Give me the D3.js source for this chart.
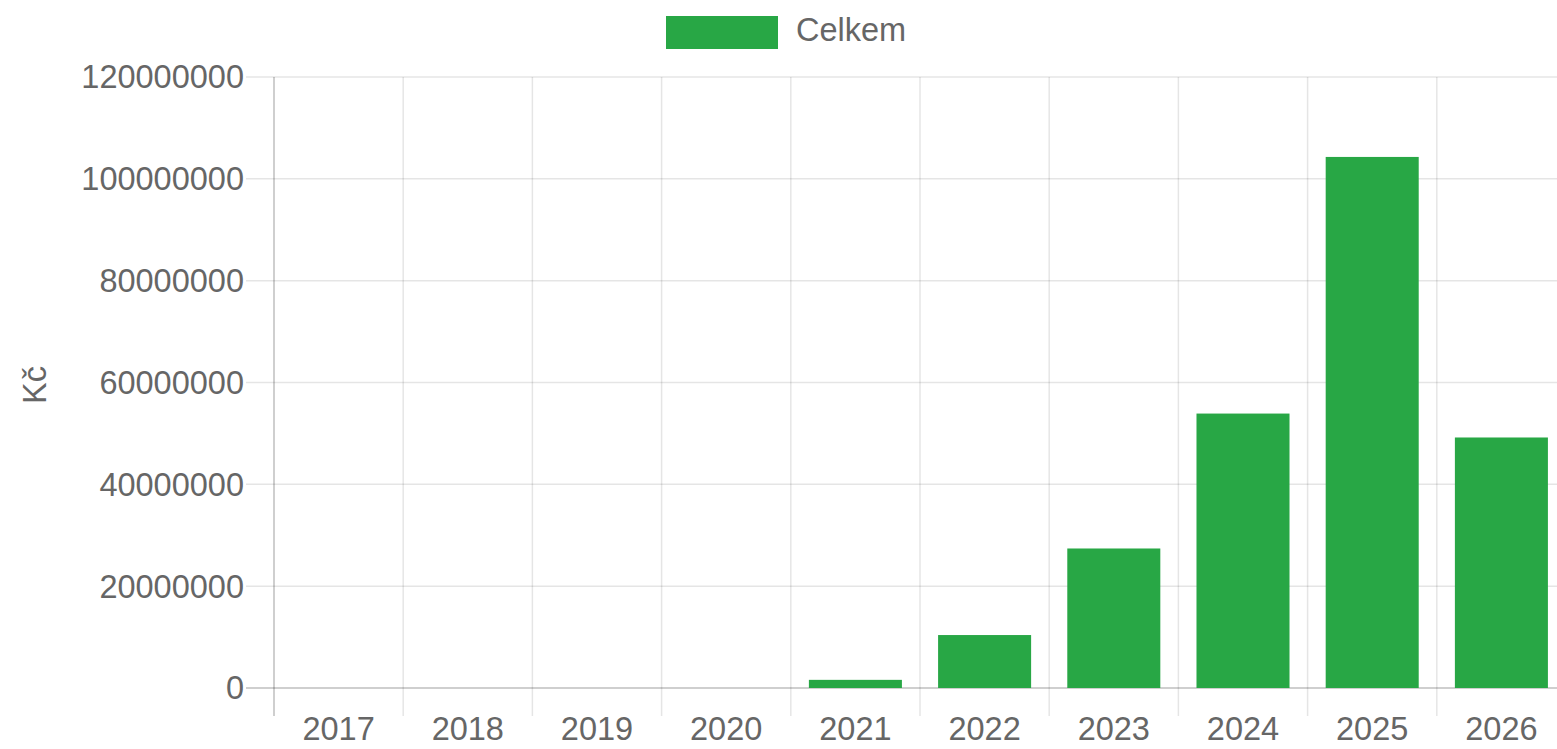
<!DOCTYPE html>
<html>
<head>
<meta charset="utf-8">
<script src="https://cdn.jsdelivr.net/npm/d3@7"></script>
<style>
  body { margin: 0; background: #fff; overflow: hidden; }
  text { font-family: "Liberation Sans", Arial, sans-serif; fill: #666; }
</style>
</head>
<body>
<svg id="chart" width="1557" height="749"></svg>
<script>
// data
const years = ["2017", "2018", "2019", "2020", "2021", "2022", "2023", "2024", "2025", "2026"];
const celkem = [0, 0, 0, 0, 1600000, 10400000, 27400000, 53900000, 104300000, 49200000];
const yTicks = [0, 20000000, 40000000, 60000000, 80000000, 100000000, 120000000];
const seriesName = "Celkem";
const yTitle = "Kč";

// plot runs a bit past the right edge of the picture, like the original crop
const plotL = 274, plotR = 1566, plotT = 77, plotB = 688;
const green = "#28a745";

const svg = d3.select("#chart");

const x = d3.scaleBand().domain(years).range([plotL, plotR]).padding(0);
const y = d3.scaleLinear().domain([0, 120000000]).range([plotB, plotT]);

// horizontal grid + y ticks
svg.append("g").selectAll("line").data(yTicks).enter().append("line")
  .attr("x1", plotL - 28).attr("x2", plotR)
  .attr("y1", d => y(d)).attr("y2", d => y(d))
  .attr("stroke", d => d === 0 ? "rgba(0,0,0,0.25)" : "rgba(0,0,0,0.1)")
  .attr("stroke-width", 1.5);

// vertical grid at category edges
const edges = years.map(d => x(d)).concat([plotR]);
svg.append("g").selectAll("line").data(edges).enter().append("line")
  .attr("x1", d => d).attr("x2", d => d)
  .attr("y1", plotT).attr("y2", plotB + 28)
  .attr("stroke", (d, i) => i === 0 ? "rgba(0,0,0,0.25)" : "rgba(0,0,0,0.1)")
  .attr("stroke-width", 1.5);

// bars
const bw = x.bandwidth() * 0.72;
svg.append("g").selectAll("rect").data(years).enter().append("rect")
  .attr("x", d => x(d) + (x.bandwidth() - bw) / 2)
  .attr("width", bw)
  .attr("y", (d, i) => y(celkem[i]))
  .attr("height", (d, i) => plotB - y(celkem[i]))
  .attr("fill", green);

// y tick labels
svg.append("g").selectAll("text").data(yTicks).enter().append("text")
  .attr("x", plotL - 30).attr("y", d => y(d))
  .attr("dy", "0.35em")
  .attr("text-anchor", "end")
  .style("font-size", "32.5px")
  .text(d => d3.format("d")(d));

// x tick labels
svg.append("g").selectAll("text").data(years).enter().append("text")
  .attr("x", d => x(d) + x.bandwidth() / 2).attr("y", 729)
  .attr("dy", "0.35em")
  .attr("text-anchor", "middle")
  .style("font-size", "32.5px")
  .text(d => d);

// y title
svg.append("text")
  .attr("transform", "translate(35,385) rotate(-90)")
  .attr("text-anchor", "middle")
  .attr("dy", "0.35em")
  .style("font-size", "32.5px")
  .text(yTitle);

// legend
svg.append("rect").attr("x", 666).attr("y", 16).attr("width", 112).attr("height", 33)
  .attr("fill", green);
svg.append("text").attr("x", 796).attr("y", 30).attr("dy", "0.35em")
  .style("font-size", "32.5px")
  .text(seriesName);
</script>
</body>
</html>
